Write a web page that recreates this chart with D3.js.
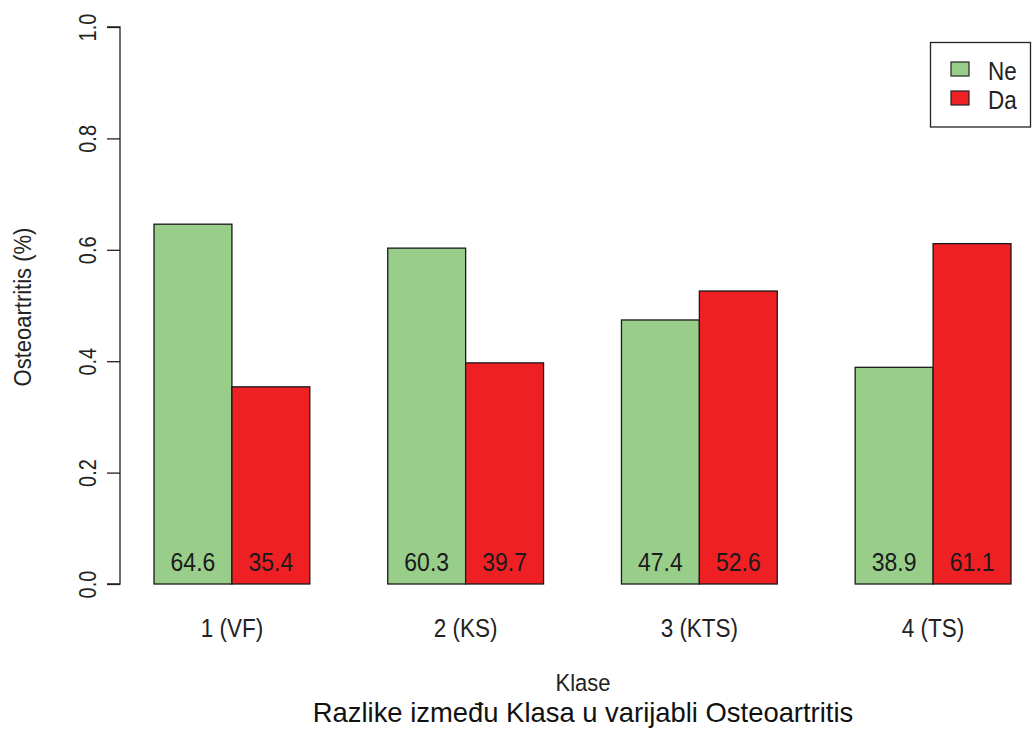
<!DOCTYPE html>
<html><head><meta charset="utf-8">
<script src="https://cdn.jsdelivr.net/npm/d3@7"></script>
<style>body{margin:0;background:#fff}svg{display:block;font-family:Arial,"Liberation Sans",sans-serif}</style>
</head><body>
<script>
const categories = ["1 (VF)", "2 (KS)", "3 (KTS)", "4 (TS)"];
const seriesNames = ["Ne", "Da"];
const neValues = [0.646, 0.603, 0.474, 0.389];
const daValues = [0.354, 0.397, 0.526, 0.611];
const yTicks = [0, 0.2, 0.4, 0.6, 0.8, 1.0];
const colors = ["#98CE8A", "#EE2024"];

const W = 1032, H = 729;
const S = 1.12; // vertical glyph stretch seen in the reference
const svg = d3.select("body").append("svg").attr("width", W).attr("height", H);

const x0 = d3.scaleBand().domain(categories).range([154, 1011]).paddingInner(1/3).paddingOuter(0);
const x1 = d3.scaleBand().domain(seriesNames).range([0, x0.bandwidth()]).padding(0);
const y = d3.scaleLinear().domain([0, 1]).range([584, 27]);
const color = d3.scaleOrdinal().domain(seriesNames).range(colors);

const data = categories.map((c, i) => ({cat: c, vals: [
  {s: "Ne", v: neValues[i]}, {s: "Da", v: daValues[i]}]}));

const g = svg.selectAll("g.grp").data(data).enter().append("g")
  .attr("transform", d => `translate(${x0(d.cat)},0)`);
g.selectAll("rect").data(d => d.vals).enter().append("rect")
  .attr("x", d => x1(d.s)).attr("y", d => y(d.v))
  .attr("width", x1.bandwidth()).attr("height", d => y(0) - y(d.v))
  .attr("fill", d => color(d.s)).attr("stroke", "#1a1a1a").attr("stroke-width", 1.3);
g.selectAll("text").data(d => d.vals).enter().append("text")
  .attr("transform", d => `translate(${x1(d.s) + x1.bandwidth() / 2},571) scale(1,${S})`)
  .attr("text-anchor", "middle").attr("font-size", 23).attr("fill", "#1a1a1a")
  .text(d => (d.v * 100).toFixed(1));

// y axis
const yAxis = d3.axisLeft(y).tickValues(yTicks).tickSize(13).tickFormat(d3.format(".1f"));
const ya = svg.append("g").attr("transform", "translate(120,0)").call(yAxis);
ya.select(".domain").attr("stroke", "#222").attr("stroke-width", 1.3).attr("d", `M-13,${y(0)}H0V${y(1)}H-13`);
ya.selectAll(".tick line").attr("stroke", "#222").attr("stroke-width", 1.3);
ya.selectAll(".tick text")
  .attr("font-size", 20).attr("fill", "#222").attr("text-anchor", "middle")
  .attr("transform", `translate(-32,0) rotate(-90) scale(1,1.2)`)
  .attr("x", 0).attr("y", 0).attr("dy", "0.35em");

// category labels
svg.selectAll("text.cat").data(categories).enter().append("text").attr("class", "cat")
  .attr("transform", d => `translate(${x0(d) + x0.bandwidth() / 2},637) scale(1,${S})`)
  .attr("text-anchor", "middle").attr("font-size", 22.5).attr("fill", "#222").text(d => d);

// y label
svg.append("text").attr("transform", `translate(31,307) rotate(-90) scale(1,${S})`)
  .attr("text-anchor", "middle").attr("font-size", 22).attr("fill", "#222").text("Osteoartritis (%)");

// x label & title
svg.append("text").attr("transform", `translate(583,691) scale(1,1.08)`).attr("text-anchor", "middle")
  .attr("font-size", 22).attr("fill", "#222").text("Klase");
svg.append("text").attr("x", 583).attr("y", 722).attr("text-anchor", "middle")
  .attr("font-size", 27.4).attr("fill", "#111").text("Razlike između Klasa u varijabli Osteoartritis");

// legend
const lg = svg.append("g");
lg.append("rect").attr("x", 930.5).attr("y", 42.5).attr("width", 100).attr("height", 84.5)
  .attr("fill", "#fff").attr("stroke", "#222").attr("stroke-width", 1.3);
const li = lg.selectAll("g.li").data(seriesNames).enter().append("g")
  .attr("transform", (d, i) => `translate(0,${i * 29})`);
li.append("rect").attr("x", 951).attr("y", 62).attr("width", 18).attr("height", 14)
  .attr("fill", d => color(d)).attr("stroke", "#222").attr("stroke-width", 1.2);
li.append("text").attr("transform", `translate(988,80) scale(1,${S})`).attr("font-size", 22.5).attr("fill", "#222").text(d => d);
</script>
</body></html>
